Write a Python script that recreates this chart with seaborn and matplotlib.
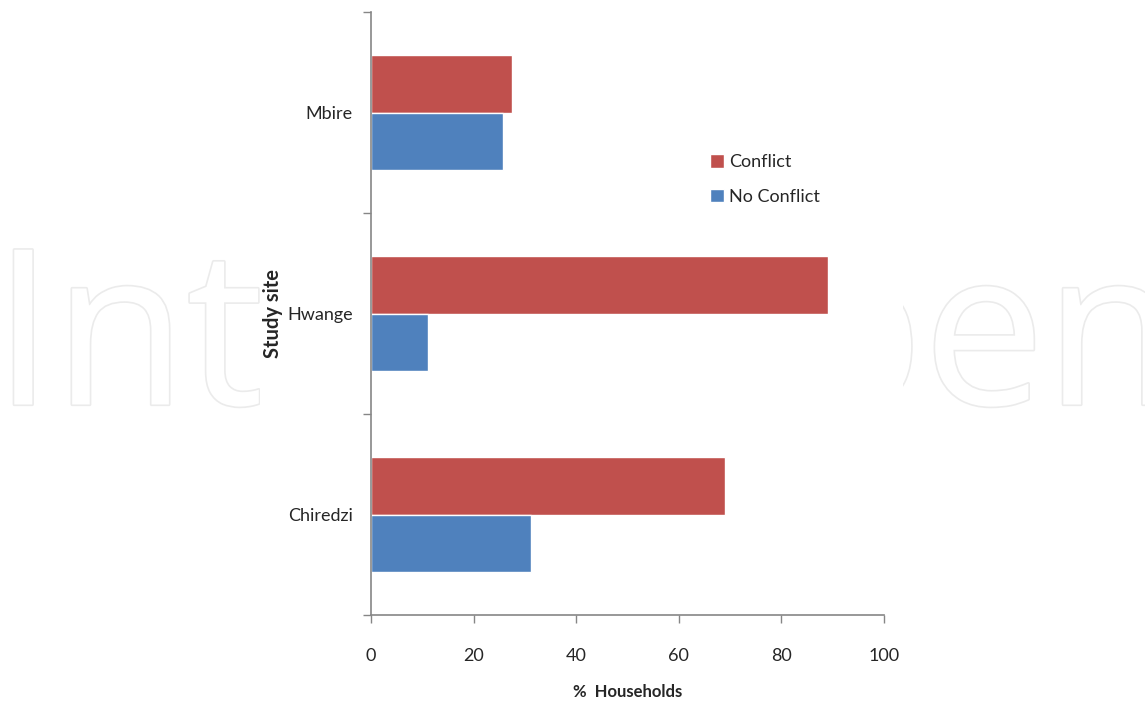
import pandas as pd
import matplotlib.pyplot as plt
import matplotlib.patheffects as pe
from matplotlib.patches import Rectangle
from matplotlib.ticker import FixedLocator
import seaborn as sns

# --- data ---
sites = ['Mbire', 'Hwange', 'Chiredzi']
conflict = [27.5, 89.0, 69.0]
no_conflict = [25.8, 11.1, 31.2]
groups = ['Conflict', 'No Conflict']
colors = ['#C0504D', '#4F81BD']

df = pd.DataFrame({
    'site': sites * 2,
    'pct': conflict + no_conflict,
    'group': [groups[0]] * 3 + [groups[1]] * 3,
})

sns.set_style('white')
plt.rcParams['font.family'] = ['Lato', 'DejaVu Sans']

fig = plt.figure(figsize=(11.45, 7.01), dpi=100)

# watermark behind the chart area
fig.text(-0.006, 0.423, 'IntechOpen', fontsize=156, color='white', family='Open Sans',
         ha='left', va='baseline', zorder=0,
         path_effects=[pe.withStroke(linewidth=2.4, foreground='#ebebeb')])
fig.patches.append(Rectangle((260 / 1145, 0), (903 - 260) / 1145, 1, transform=fig.transFigure,
                             facecolor='white', edgecolor='none', zorder=1))

ax = fig.add_axes([371 / 1145, 1 - 615 / 701, (884 - 371) / 1145, (615 - 12) / 701])
ax.set_zorder(2)
ax.patch.set_alpha(0)

sns.barplot(data=df, y='site', x='pct', hue='group', order=sites, hue_order=groups,
            palette=colors, width=0.57, orient='h', saturation=1, ax=ax)

ax.set_xlim(0, 100)
ax.set_ylim(2.5, -0.5)
ax.set_xticks([0, 20, 40, 60, 80, 100])

# tick marks between categories, labels centered
ax.yaxis.set_minor_locator(FixedLocator([-0.5, 0.5, 1.5, 2.5]))
ax.tick_params(axis='y', which='major', length=0, pad=13, labelsize=13)
ax.tick_params(axis='y', which='minor', length=6, width=1, color='#868686', direction='out', left=True)
ax.tick_params(axis='x', length=6, width=1, color='#868686', direction='out', bottom=True,
               pad=18, labelsize=13)

for s in ['top', 'right']:
    ax.spines[s].set_visible(False)
for s in ['left', 'bottom']:
    ax.spines[s].set_color('#868686')
    ax.spines[s].set_linewidth(1.2)

ax.set_xlabel('%  Households', fontsize=12, fontweight='bold')
ax.set_ylabel('Study site', fontsize=14.5, fontweight='bold')
ax.xaxis.label.set_va('center')
ax.xaxis.set_label_coords(0.5, -(692 - 615) / 603)
ax.yaxis.set_label_coords(-(371 - 283) / 513, 0.5)

ax.legend(loc='upper left', bbox_to_anchor=(703 / 1145, 1 - 147 / 701), bbox_transform=fig.transFigure,
          frameon=False, fontsize=13, handlelength=0.75, handleheight=0.75,
          handletextpad=0.3, labelspacing=1.05, borderaxespad=0)

fig.savefig('out.png', dpi=100)
